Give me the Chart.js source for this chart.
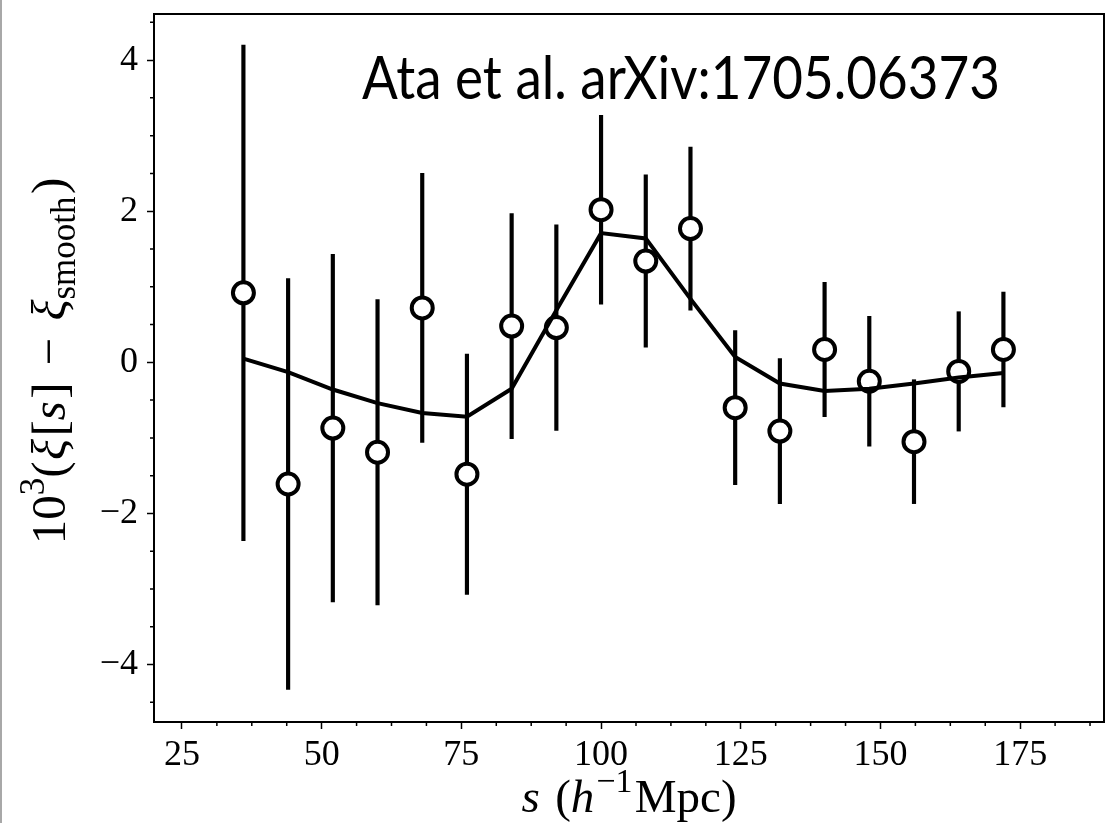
<!DOCTYPE html>
<html>
<head>
<meta charset="utf-8">
<script src="https://cdn.jsdelivr.net/npm/chart.js@4.4.0/dist/chart.umd.min.js"></script>
<style>
    body { margin: 0; background: #ffffff; }
    #marco { position: absolute; left: 0; top: 0; width: 2px; height: 823px; background: #a8a8a8; }
</style>
</head>
<body>
<div id="marco"></div>
<canvas id="grafico" width="1106" height="823"></canvas>
<script>

// separaciones s (h^-1 Mpc)
const sValues = [36, 44, 52, 60, 68, 76, 84, 92, 100, 108, 116, 124, 132, 140, 148, 156, 164, 172];
// 10^3 (xi - xi_smooth), puntos medidos
const xiValues = [0.92, -1.61, -0.87, -1.19, 0.72, -1.48, 0.48, 0.46, 2.02, 1.34, 1.77, -0.60, -0.91, 0.17, -0.25, -1.05, -0.12, 0.17];
// barras de error (simetricas)
const xiErrors = [3.28, 2.72, 2.30, 2.02, 1.78, 1.59, 1.49, 1.36, 1.25, 1.14, 1.08, 1.02, 0.96, 0.89, 0.86, 0.82, 0.79, 0.76];
// modelo (linea continua)
const modelValues = [0.05, -0.13, -0.36, -0.54, -0.67, -0.72, -0.35, 0.69, 1.71, 1.64, 0.84, 0.07, -0.28, -0.38, -0.35, -0.28, -0.20, -0.14];

const xTickValues = [25, 50, 75, 100, 125, 150, 175];
const yTickValues = [-4, -2, 0, 2, 4];
const xMinorTicks = [31.25, 37.5, 43.75, 56.25, 62.5, 68.75, 81.25, 87.5, 93.75, 106.25, 112.5, 118.75, 131.25, 137.5, 143.75, 156.25, 162.5, 168.75, 181.25, 187.5];
const yMinorTicks = [-4.5, -3.5, -3, -2.5, -1.5, -1, -0.5, 0.5, 1, 1.5, 2.5, 3, 3.5, 4.5];

const textoNota = 'Ata et al. arXiv:1705.06373';
const fuenteSerif = '"Liberation Serif", "DejaVu Serif", serif';


// texto con partes en cursiva, superindice y subindice
function dibujarTexto(ctx, partes, size) {
    const fuente = (p) => (p.italic ? 'italic ' : '') + Math.round(size * (p.scale || 1)) + 'px ' + fuenteSerif;
    let total = 0;
    partes.forEach(p => {
        ctx.font = fuente(p);
        total += ctx.measureText(p.text).width + (p.gap || 0) * size;
    });
    let x = -total / 2;
    ctx.textAlign = 'left';
    ctx.textBaseline = 'alphabetic';
    partes.forEach(p => {
        ctx.font = fuente(p);
        ctx.fillText(p.text, x, (p.shift || 0) * size);
        x += ctx.measureText(p.text).width + (p.gap || 0) * size;
    });
}


const extras = {
    id: 'extras',
    afterDraw(chart) {
        const ctx = chart.ctx;
        const area = chart.chartArea;
        const xs = chart.scales.x;
        const ys = chart.scales.y;

        ctx.save();

        // marco completo
        ctx.strokeStyle = '#000000';
        ctx.lineWidth = 2;
        ctx.strokeRect(area.left, area.top, area.right - area.left, area.bottom - area.top);

        // ticks menores
        ctx.lineWidth = 1.5;
        ctx.beginPath();
        xMinorTicks.forEach(v => {
            const px = xs.getPixelForValue(v);
            ctx.moveTo(px, area.bottom);
            ctx.lineTo(px, area.bottom + 4);
        });
        yMinorTicks.forEach(v => {
            const py = ys.getPixelForValue(v);
            ctx.moveTo(area.left, py);
            ctx.lineTo(area.left - 4, py);
        });
        ctx.stroke();

        ctx.fillStyle = '#000000';

        // titulo eje x
        ctx.save();
        ctx.translate((area.left + area.right) / 2, 812);
        dibujarTexto(ctx, [
            { text: 's', italic: true, gap: 0.08 },
            { text: ' (' },
            { text: 'h', italic: true, gap: 0.04 },
            { text: '−1', scale: 0.72, shift: -0.42, gap: 0.05 },
            { text: 'Mpc)' }
        ], 47);
        ctx.restore();

        // titulo eje y
        ctx.save();
        ctx.translate(65, 361);
        ctx.rotate(-Math.PI / 2);
        dibujarTexto(ctx, [
            { text: '10' },
            { text: '3', scale: 0.72, shift: -0.42 },
            { text: '(', gap: 0.03 },
            { text: 'ξ', italic: true, gap: 0.05 },
            { text: '[' },
            { text: 's', italic: true, gap: 0.05 },
            { text: ']', gap: 0.1 },
            { text: ' − ', gap: 0.1 },
            { text: 'ξ', italic: true },
            { text: 'smooth', scale: 0.72, shift: 0.2, gap: 0.05 },
            { text: ')' }
        ], 49);
        ctx.restore();

        // nota
        ctx.font = '60px Lato, "Open Sans", sans-serif';
        const ancho = ctx.measureText(textoNota).width;
        const x0 = xs.getPixelForValue(57.2);
        const y0 = ys.getPixelForValue(3.49);
        ctx.translate(x0, y0);
        ctx.scale(638 / ancho, 1);
        ctx.textAlign = 'left';
        ctx.textBaseline = 'alphabetic';
        ctx.fillText(textoNota, 0, 0);

        ctx.restore();
    }
};


function sinRelleno(scale) {
    scale.paddingTop = 0;
    scale.paddingBottom = 0;
    scale.paddingLeft = 0;
    scale.paddingRight = 0;
}


const barrasError = sValues.map((s, i) => ({ x: s, y: [xiValues[i] - xiErrors[i], xiValues[i] + xiErrors[i]] }));
const puntos = sValues.map((s, i) => ({ x: s, y: xiValues[i] }));
const modelo = sValues.map((s, i) => ({ x: s, y: modelValues[i] }));

const ctx = document.getElementById('grafico').getContext('2d');

new Chart(ctx, {
    type: 'scatter',
    data: {
        datasets: [
            {
                type: 'line',
                data: modelo,
                borderColor: '#000000',
                borderWidth: 4,
                pointRadius: 0,
                tension: 0,
                fill: false,
                order: 0
            },
            {
                type: 'scatter',
                data: puntos,
                pointRadius: 10.5,
                pointBorderWidth: 4,
                pointBackgroundColor: '#ffffff',
                pointBorderColor: '#000000',
                order: 1
            },
            {
                type: 'bar',
                data: barrasError,
                backgroundColor: '#000000',
                borderWidth: 0,
                barThickness: 3.5,
                order: 2
            }
        ]
    },
    plugins: [extras],
    options: {
        responsive: false,
        animation: false,
        devicePixelRatio: 1,
        layout: {
            autoPadding: false,
            padding: { top: 14, right: 2, left: 0, bottom: 0 }
        },
        plugins: {
            legend: { display: false },
            tooltip: { enabled: false },
            title: { display: false }
        },
        scales: {
            x: {
                type: 'linear',
                min: 20,
                max: 190,
                offset: false,
                afterBuildTicks: (scale) => { scale.ticks = xTickValues.map(v => ({ value: v })); },
                afterFit: (scale) => { scale.height = 101; sinRelleno(scale); },
                grid: {
                    offset: false,
                    drawOnChartArea: false,
                    drawTicks: true,
                    tickLength: 7,
                    tickWidth: 1.5,
                    tickColor: '#000000'
                },
                border: { display: true, color: '#000000', width: 2 },
                ticks: {
                    color: '#000000',
                    padding: 5,
                    maxRotation: 0,
                    autoSkip: false,
                    font: { family: fuenteSerif, size: 36 }
                }
            },
            y: {
                type: 'linear',
                min: -4.76,
                max: 4.61,
                afterBuildTicks: (scale) => { scale.ticks = yTickValues.map(v => ({ value: v })); },
                afterFit: (scale) => { scale.width = 154; sinRelleno(scale); },
                grid: {
                    drawOnChartArea: false,
                    drawTicks: true,
                    tickLength: 7,
                    tickWidth: 1.5,
                    tickColor: '#000000'
                },
                border: { display: true, color: '#000000', width: 2 },
                ticks: {
                    color: '#000000',
                    padding: 9,
                    autoSkip: false,
                    font: { family: fuenteSerif, size: 36 },
                    callback: function(value) {
                        return value < 0 ? '−' + Math.abs(value) : String(value);
                    }
                }
            }
        }
    }
});
</script>
</body>
</html>
